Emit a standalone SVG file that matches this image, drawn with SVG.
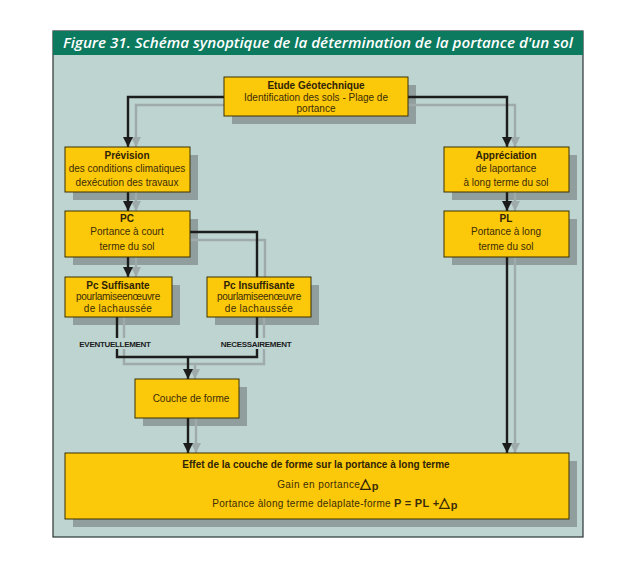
<svg xmlns="http://www.w3.org/2000/svg" width="639" height="578" viewBox="0 0 639 578">
<defs>
<marker id="ab" markerUnits="userSpaceOnUse" markerWidth="12" markerHeight="10" refX="10" refY="5" orient="auto">
<path d="M0,0 L10,5 L0,10 Z" fill="#1c1c1c"/>
</marker>
<marker id="ag" markerUnits="userSpaceOnUse" markerWidth="12" markerHeight="10" refX="10" refY="5" orient="auto">
<path d="M0,0 L10,5 L0,10 Z" fill="#9eabaa"/>
</marker>
</defs>
<style>
.box{fill:#fcc80a;stroke:#3a3000;stroke-width:1}
.sh{fill:#909e9d}
.b{fill:none;stroke:#1c1c1c;stroke-width:2.4}
.g{fill:none;stroke:#9eabaa;stroke-width:2.4}
.t{font-family:"Liberation Sans",Arial,sans-serif;font-size:10px;fill:#3b2c08;text-anchor:middle}
.tb{font-family:"Liberation Sans",Arial,sans-serif;font-size:10px;font-weight:bold;fill:#2e2306;text-anchor:middle}
.lab{font-family:"Liberation Sans",Arial,sans-serif;font-size:8px;font-weight:bold;fill:#1c1c1c;text-anchor:middle;letter-spacing:-0.3px}
</style>
<rect width="639" height="578" fill="#ffffff"/>
<rect x="53" y="31" width="530" height="506" fill="#bdd4d1" stroke="#2a3333" stroke-width="1.2"/>
<rect x="53" y="31" width="530" height="24" fill="#0c7a5e"/>
<text x="318" y="48" text-anchor="middle" font-family="'Open Sans','DejaVu Sans',sans-serif" font-size="15" font-style="italic" font-weight="600" fill="#ffffff" textLength="510" lengthAdjust="spacingAndGlyphs">Figure 31. Schéma synoptique de la détermination de la portance d'un  sol</text>

<g id="shadows">
<rect class="sh" x="232" y="85" width="184" height="39"/>
<rect class="sh" x="73" y="155" width="125" height="45"/>
<rect class="sh" x="73" y="219" width="125" height="46"/>
<rect class="sh" x="73" y="285" width="107" height="40"/>
<rect class="sh" x="215" y="285" width="104" height="40"/>
<rect class="sh" x="452" y="155" width="125" height="45"/>
<rect class="sh" x="452" y="219" width="125" height="46"/>
<rect class="sh" x="143" y="387" width="104" height="39"/>
<rect class="sh" x="73" y="461" width="504" height="66"/>
</g>

<g id="connectors">
<path class="g" d="M224,105 H136 V147" marker-end="url(#ag)"/>
<path class="g" d="M408,105 H515 V147" marker-end="url(#ag)"/>
<path class="g" d="M136,192 V211" marker-end="url(#ag)"/>
<path class="g" d="M136,257 V277" marker-end="url(#ag)"/>
<path class="g" d="M190,240 H265 V277"/>
<path class="g" d="M124,317 V364 H264 V317"/>
<path class="g" d="M195,364 V379" marker-end="url(#ag)"/>
<path class="g" d="M196,418 V453" marker-end="url(#ag)"/>
<path class="g" d="M515,192 V211" marker-end="url(#ag)"/>
<path class="g" d="M515,257 V453" marker-end="url(#ag)"/>

<path class="b" d="M224,97 H128 V147" marker-end="url(#ab)"/>
<path class="b" d="M408,97 H507 V147" marker-end="url(#ab)"/>
<path class="b" d="M128,192 V211" marker-end="url(#ab)"/>
<path class="b" d="M128,257 V277" marker-end="url(#ab)"/>
<path class="b" d="M190,232 H257 V277"/>
<path class="b" d="M117,317 V357 H257 V317"/>
<path class="b" d="M188,357 V379" marker-end="url(#ab)"/>
<path class="b" d="M188,418 V453" marker-end="url(#ab)"/>
<path class="b" d="M507,192 V211" marker-end="url(#ab)"/>
<path class="b" d="M507,257 V453" marker-end="url(#ab)"/>
<rect x="70" y="338" width="90" height="11" fill="#bdd4d1"/>
<rect x="212" y="338" width="88" height="11" fill="#bdd4d1"/>
<text class="lab" x="115" y="347">EVENTUELLEMENT</text>
<text class="lab" x="256" y="347">NECESSAIREMENT</text>
</g>

<g id="etude">
<rect class="box" x="224" y="77" width="184" height="39"/>
<text class="tb" x="316" y="89">Etude Géotechnique</text>
<text class="t" x="316" y="101">Identification des sols - Plage de</text>
<text class="t" x="316" y="112">portance</text>
</g>
<g id="prevision">
<rect class="box" x="65" y="147" width="125" height="45"/>
<text class="tb" x="127" y="159">Prévision</text>
<text class="t" x="127" y="172" font-size="9.5">des conditions climatiques</text>
<text class="t" x="127" y="186" font-size="9.5">dexécution des travaux</text>
</g>
<g id="pc">
<rect class="box" x="65" y="211" width="125" height="46"/>
<text class="tb" x="127" y="222">PC</text>
<text class="t" x="127" y="235">Portance à court</text>
<text class="t" x="127" y="250">terme du sol</text>
</g>
<g id="pc-suffisante">
<rect class="box" x="65" y="277" width="107" height="40"/>
<text class="tb" x="118" y="289">Pc  Suffisante</text>
<text class="t" x="118" y="300" letter-spacing="-0.3">pourlamiseenœuvre</text>
<text class="t" x="118" y="312" letter-spacing="0.3">de lachaussée</text>
</g>
<g id="pc-insuffisante">
<rect class="box" x="207" y="277" width="104" height="40"/>
<text class="tb" x="259" y="289">Pc Insuffisante</text>
<text class="t" x="259" y="300" letter-spacing="-0.3">pourlamiseenœuvre</text>
<text class="t" x="259" y="312" letter-spacing="0.3">de lachaussée</text>
</g>
<g id="appreciation">
<rect class="box" x="444" y="147" width="125" height="45"/>
<text class="tb" x="506" y="159">Appréciation</text>
<text class="t" x="506" y="172" font-size="9.5">de laportance</text>
<text class="t" x="506" y="186" font-size="9.5">à long terme du sol</text>
</g>
<g id="pl">
<rect class="box" x="444" y="211" width="125" height="46"/>
<text class="tb" x="506" y="222">PL</text>
<text class="t" x="506" y="235">Portance à long</text>
<text class="t" x="506" y="250">terme du sol</text>
</g>
<g id="couche">
<rect class="box" x="135" y="379" width="104" height="39"/>
<text class="t" x="191" y="402" font-size="10.5">Couche de forme</text>
</g>
<g id="effet">
<rect class="box" x="65" y="453" width="504" height="66"/>
<text class="tb" x="316" y="468" font-size="11.3">Effet de la couche de forme sur la portance à long terme</text>
<text class="t" x="328" y="488" letter-spacing="0.4">Gain en portance<tspan font-size="14" font-weight="bold" fill="#2e2306">△</tspan><tspan font-weight="bold" font-size="11" dy="2">p</tspan></text>
<text class="t" x="335" y="507" letter-spacing="0.3">Portance àlong terme delaplate-forme <tspan font-weight="bold" font-size="11">P = PL +</tspan><tspan font-size="14" font-weight="bold">△</tspan><tspan font-weight="bold" font-size="11" dy="2">p</tspan></text>
</g>
</svg>
